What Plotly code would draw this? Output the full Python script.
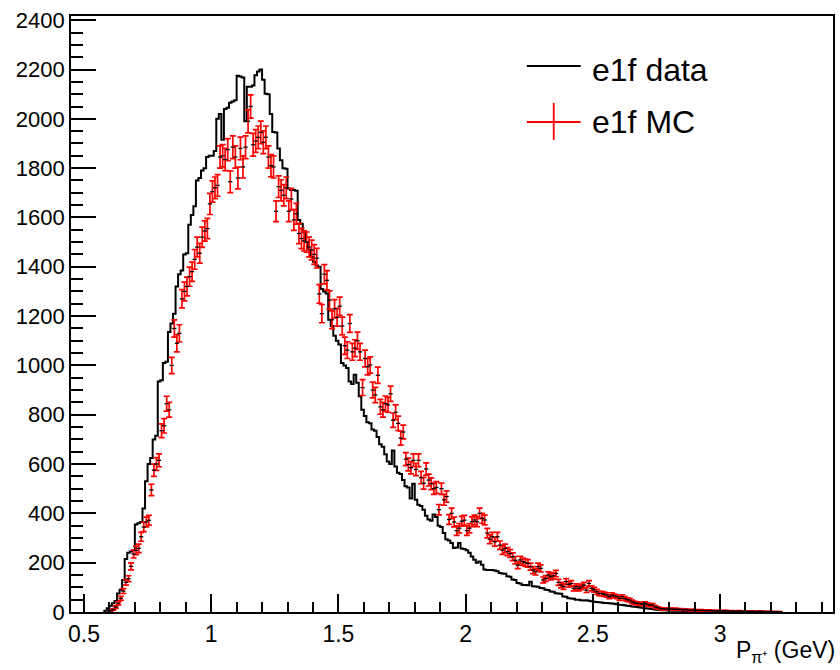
import numpy as np
import plotly.graph_objects as go

# ---------------- data ----------------
bin_width = 0.01

# e1f data histogram (counts per 0.01 GeV bin), first bin low edge:
data_first_edge = 0.58
data_counts = [
    5, 15, 25, 35, 45, 75, 90, 130, 215, 240,
    245, 250, 355, 360, 365, 420, 530, 600, 625, 700,
    715, 935, 940, 1010, 1015, 1135, 1170, 1210, 1320, 1370,
    1385, 1450, 1455, 1570, 1610, 1645, 1750, 1760, 1790, 1800,
    1845, 1850, 1850, 1870, 2000, 2020, 1915, 2040, 2045, 2065,
    2070, 2075, 2175, 2172, 2168, 1990, 2130, 2130, 2135, 2177,
    2192, 2200, 2158, 2102, 2100, 2020, 1947, 1945, 1880, 1832,
    1800, 1798, 1717, 1711, 1711, 1708, 1590, 1575, 1540, 1500,
    1470, 1440, 1420, 1405, 1400, 1310, 1300, 1292, 1185, 1160,
    1120, 1100, 1085, 1010, 1000, 990, 935, 925, 962, 930,
    875, 820, 795, 770, 765, 740, 735, 710, 680, 670,
    640, 610, 600, 655, 590, 565, 560, 535, 510, 505,
    460, 520, 455, 435, 430, 415, 390, 375, 370, 395,
    385, 350, 345, 320, 295, 290, 280, 260, 262, 280,
    258, 255, 250, 240, 225, 212, 200, 205, 192, 172,
    170, 170, 170, 168, 165, 158, 156, 155, 145, 143,
    132, 130, 118, 116, 110, 109, 108, 123, 104, 103,
    102, 97, 96, 90, 89, 83, 82, 76, 75, 74,
    63, 62, 56, 55, 54, 50, 50, 48, 47, 48,
    46, 44, 42, 41, 40, 39, 37, 36, 35, 34,
    33, 31, 29, 28, 27, 25, 24, 22, 21, 20,
    18, 17, 15, 14, 13, 12, 10, 9, 8, 7,
    7, 6, 6, 5, 5, 5, 5, 4, 5, 4,
    4, 4, 4, 3, 4, 3, 3, 3, 3, 2,
    3, 2, 2, 2, 2, 1, 2, 1, 1, 1,
    1, 0, 1, 0,
]

# e1f MC points (counts per 0.01 GeV bin) and their errors, first bin low edge:
mc_first_edge = 0.60
mc_counts = [
    5, 10, 20, 35, 55, 85, 120, 135, 185, 235,
    250, 258, 305, 345, 365, 372, 495, 575, 600, 615,
    735, 755, 845, 820, 1000, 1150, 1090, 1130, 1270, 1300,
    1320, 1360, 1380, 1430, 1480, 1455, 1520, 1545, 1555, 1655,
    1705, 1720, 1730, 1845, 1850, 1835, 1875, 1745, 1885, 1845,
    1760, 1880, 1805, 1885, 1990, 2050, 1895, 1910, 1925, 1945,
    1905, 1925, 1845, 1810, 1805, 1625, 1725, 1710, 1690, 1720,
    1625, 1675, 1590, 1615, 1535, 1515, 1505, 1500, 1480, 1468,
    1450, 1435, 1290, 1210, 1370, 1345, 1265, 1185, 1230, 1195,
    1240, 1160, 1080, 1062, 1170, 1055, 1070, 1100, 1055, 910,
    1028, 995, 1002, 900, 880, 960, 832, 820, 845, 840,
    885, 778, 810, 765, 705, 730, 620, 598, 585, 615,
    578, 615, 545, 522, 580, 535, 520, 500, 505, 415,
    500, 455, 468, 375, 400, 365, 330, 340, 368, 372,
    330, 340, 366, 373, 366, 400, 380, 373, 320, 295,
    305, 285, 305, 271, 251, 258, 245, 237, 224, 210,
    190, 211, 204, 200, 197, 184, 170, 163, 184, 177,
    130, 136, 150, 143, 147, 156, 120, 109, 103, 123,
    112, 116, 96, 103, 96, 102, 109, 89, 116, 96,
    90, 82, 75, 75, 72, 69, 62, 69, 65, 62,
    55, 62, 55, 50, 48, 41, 37, 35, 34, 32,
    35, 30, 28, 28, 21, 18, 14, 13, 12, 12,
    12, 11, 12, 10, 11, 9, 10, 8, 7, 8,
    7, 6, 7, 6, 5, 6, 5, 5, 4, 5,
    4, 4, 5, 3, 4, 3, 3, 4, 3, 2,
    3, 2, 3, 2, 2, 3, 2, 2, 1, 2,
    1, 1, 1, 1,
]
mc_errors = [
    2, 3, 5, 6, 8, 10, 11, 12, 14, 16,
    17, 17, 18, 19, 20, 20, 23, 25, 26, 26,
    28, 29, 30, 30, 33, 35, 35, 35, 37, 38,
    38, 39, 39, 40, 40, 40, 41, 41, 41, 43,
    43, 44, 44, 45, 45, 45, 45, 44, 46, 45,
    44, 46, 45, 46, 47, 47, 46, 46, 46, 46,
    46, 46, 45, 45, 45, 42, 44, 43, 43, 44,
    42, 43, 42, 42, 41, 41, 41, 41, 40, 40,
    40, 40, 38, 37, 39, 39, 37, 36, 37, 36,
    37, 36, 35, 34, 36, 34, 34, 35, 34, 32,
    34, 33, 33, 32, 31, 33, 30, 30, 31, 30,
    31, 29, 30, 29, 28, 28, 26, 26, 25, 26,
    25, 26, 25, 24, 25, 24, 24, 23, 24, 21,
    23, 22, 23, 20, 21, 20, 19, 19, 20, 20,
    19, 19, 20, 20, 20, 21, 20, 20, 19, 18,
    18, 18, 18, 17, 17, 17, 16, 16, 16, 15,
    14, 15, 15, 15, 15, 14, 14, 13, 14, 14,
    12, 12, 13, 13, 13, 13, 12, 11, 11, 12,
    11, 11, 10, 11, 10, 11, 11, 10, 11, 10,
    10, 10, 9, 9, 9, 9, 8, 9, 8, 8,
    8, 8, 8, 7, 7, 7, 6, 6, 6, 6,
    6, 6, 6, 6, 5, 4, 4, 4, 4, 4,
    4, 3, 4, 3, 3, 3, 3, 3, 3, 3,
    3, 3, 3, 3, 2, 3, 2, 2, 2, 2,
    2, 2, 2, 2, 2, 2, 2, 2, 2, 1,
    2, 1, 2, 1, 1, 2, 1, 1, 1, 1,
    1, 1, 1, 1,
]

legend_labels = ["e1f data", "e1f MC"]
x_title = "P<sub>π⁺</sub> (GeV)"

x_range = [0.449, 3.444]
y_range = [0, 2417]

# ---------------- build marks ----------------
n_d = len(data_counts)
d_edges = data_first_edge + bin_width * np.arange(n_d + 1)
step_x = np.concatenate([[d_edges[0]], d_edges[:-1], [d_edges[-1], d_edges[-1]]])
step_y = np.concatenate([[0], data_counts, [data_counts[-1], 0]])

n_m = len(mc_counts)
mc_x = mc_first_edge + bin_width * (np.arange(n_m) + 0.5)

fig = go.Figure()
fig.add_trace(go.Scatter(
    x=step_x, y=step_y, mode="lines", line_shape="hv",
    line=dict(color="black", width=2), showlegend=False, hoverinfo="skip",
))
fig.add_trace(go.Scatter(
    x=mc_x, y=mc_counts, mode="markers",
    marker=dict(symbol="line-ew", size=3, color="black",
                line=dict(color="black", width=1.3)),
    error_y=dict(type="data", array=mc_errors, visible=True,
                 color="#ff0000", thickness=1.7, width=3),
    showlegend=False, hoverinfo="skip",
))

# ---------------- layout ----------------
L, R, T, B = 71, 835, 16, 612
W, H = R - L, B - T


def px(X):
    return (X - L) / W


def py(Y):
    return (B - Y) / H


font_family = "Liberation Sans, Arial, Helvetica, sans-serif"

fig.update_layout(
    width=840, height=670,
    margin=dict(l=L, r=840 - R, t=T, b=670 - B),
    paper_bgcolor="white", plot_bgcolor="white",
    font=dict(family=font_family, color="black", size=22),
    xaxis=dict(
        range=x_range, showgrid=False, zeroline=False,
        showline=True, mirror=True, linecolor="black", linewidth=1.8,
        ticks="inside", tick0=0.5, dtick=0.5, ticklen=18, tickwidth=1.6,
        tickcolor="black",
        minor=dict(ticks="inside", dtick=0.1, ticklen=10, tickwidth=1.6,
                   tickcolor="black", showgrid=False),
        tickfont=dict(size=23, family=font_family),
    ),
    yaxis=dict(
        range=y_range, showgrid=False, zeroline=False,
        showline=True, mirror=True, linecolor="black", linewidth=1.8,
        ticks="inside", tick0=0, dtick=200, ticklen=25, tickwidth=1.6,
        tickcolor="black",
        minor=dict(ticks="inside", dtick=50, ticklen=12, tickwidth=1.6,
                   tickcolor="black", showgrid=False),
        tickfont=dict(size=22, family=font_family),
    ),
)

# legend (drawn manually, ROOT style)
shapes = [
    dict(type="line", xref="paper", yref="paper",
         x0=px(528), x1=px(582), y0=py(66), y1=py(66),
         line=dict(color="black", width=1.8)),
    dict(type="line", xref="paper", yref="paper",
         x0=px(528), x1=px(582), y0=py(122), y1=py(122),
         line=dict(color="#ff0000", width=1.8)),
    dict(type="line", xref="paper", yref="paper",
         x0=px(555), x1=px(555), y0=py(103), y1=py(140),
         line=dict(color="#ff0000", width=1.8)),
]
fig.update_layout(shapes=shapes)

fig.add_annotation(xref="paper", yref="paper", x=px(591), y=py(70),
                   xanchor="left", yanchor="middle", showarrow=False,
                   text=legend_labels[0], font=dict(size=32, family=font_family))
fig.add_annotation(xref="paper", yref="paper", x=px(591), y=py(122),
                   xanchor="left", yanchor="middle", showarrow=False,
                   text=legend_labels[1], font=dict(size=32, family=font_family))

fig.add_annotation(xref="paper", yref="paper", x=px(839), y=py(652),
                   xanchor="right", yanchor="middle", showarrow=False,
                   text=x_title, font=dict(size=23, family=font_family))

fig.write_html("out.html")
